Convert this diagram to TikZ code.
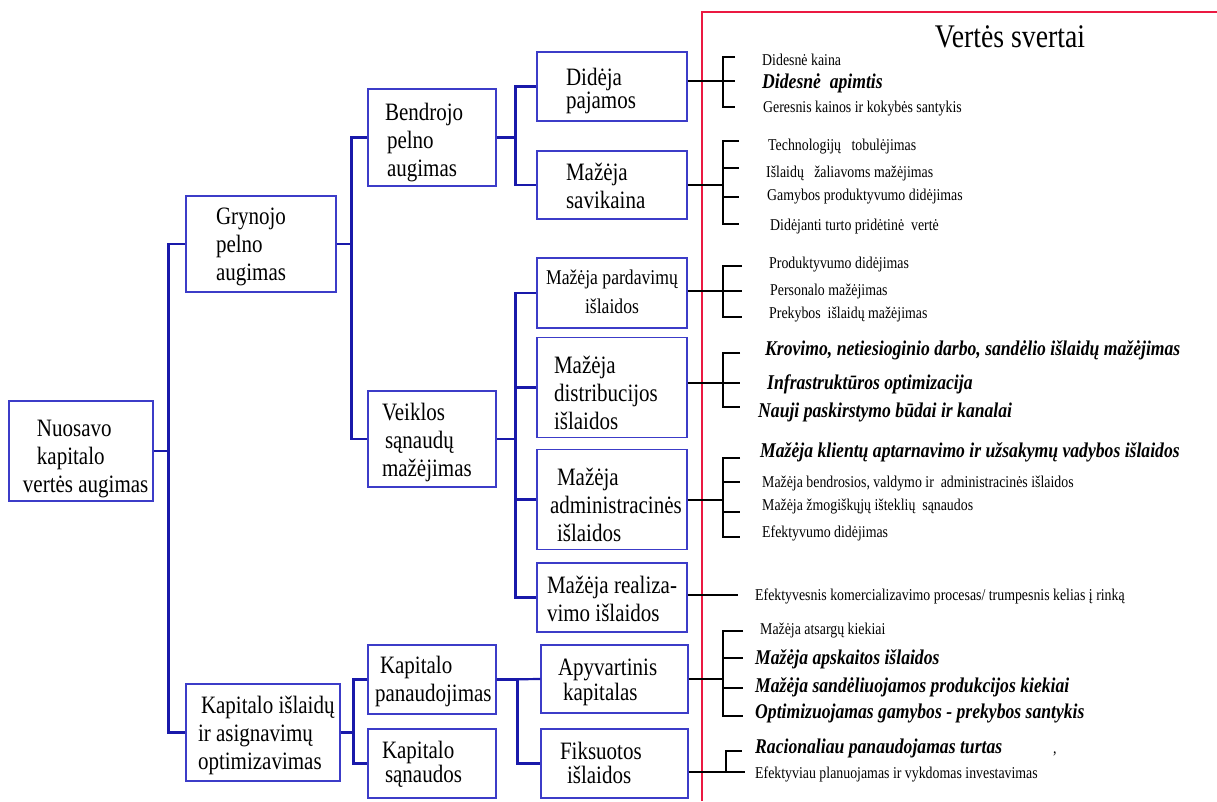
\documentclass[tikz,border=0pt]{standalone}
\usepackage{fontspec}
\setmainfont{Liberation Serif}[FakeStretch=0.84]
\usetikzlibrary{calc}
\definecolor{boxblue}{RGB}{60,60,200}
\definecolor{connblue}{RGB}{25,25,170}
\definecolor{redln}{RGB}{235,25,65}
\newcommand\bxt[3]{\makebox[#1][l]{\hspace*{#2}\begin{tabular}{@{}l@{}}#3\end{tabular}}}
\tikzset{
  box/.style={draw=boxblue, line width=1.1pt, inner sep=0pt, font=\fontsize{25}{28}\selectfont},
  conn/.style={draw=connblue, line width=2.2pt},
  blk/.style={draw=black, line width=2pt},
  redframe/.style={draw=redln, line width=2pt},
  lev/.style={anchor=base west, inner sep=0pt, font=\fontsize{16.5}{18}\selectfont},
  levb/.style={anchor=base west, inner sep=0pt, font=\fontsize{21}{24}\selectfont\bfseries\itshape},
}
\begin{document}
\begin{tikzpicture}[x=1pt,y=-1pt]
\useasboundingbox (0,0) rectangle (1217,801);

% red frame
\draw[redframe] (702,801) -- (702,12) -- (1217,12);
\node[anchor=base, inner sep=0pt, font=\fontsize{33}{36}\selectfont] (title) at (1010,47) {Vertės svertai};

% boxes
\node[box, minimum width=144pt, minimum height=96pt] (nuo) at (81,451)
  {\bxt{144pt}{14pt}{\rule{0pt}{35.6pt}\hspace*{14pt}Nuosavo\\\hspace*{14pt}kapitalo\\vertės augimas}};
\node[box, minimum width=150pt, minimum height=96pt] (gry) at (261,244)
  {\bxt{150pt}{30pt}{\rule{0pt}{25.6pt}Grynojo\\pelno\\augimas}};
\node[box, minimum width=154pt, minimum height=97pt] (kis) at (263,732.5)
  {\bxt{154pt}{12pt}{\rule{0pt}{25.6pt}\hspace*{3pt}Kapitalo išlaidų\\ir asignavimų\\optimizavimas}};
\node[box, minimum width=128pt, minimum height=97pt] (ben) at (432,137.5)
  {\bxt{128pt}{17pt}{\rule{0pt}{29.6pt}Bendrojo\\\hspace*{2pt}pelno\\\hspace*{2pt}augimas}};
\node[box, minimum width=128pt, minimum height=96pt] (vei) at (432,439)
  {\bxt{128pt}{14pt}{\rule{0pt}{26.4pt}Veiklos\\\hspace*{3pt}sąnaudų\\mažėjimas}};
\node[box, minimum width=128pt, minimum height=69pt] (kpa) at (432,679.5)
  {\bxt{128pt}{7pt}{\rule{0pt}{23.6pt}\hspace*{5pt}Kapitalo\\panaudojimas}};
\node[box, font=\fontsize{25}{24}\selectfont, minimum width=128pt, minimum height=69pt] (ksa) at (432,763.5)
  {\bxt{128pt}{14pt}{\rule{0pt}{20.8pt}Kapitalo\\\hspace*{3pt}sąnaudos}};
\node[box, font=\fontsize{25}{22}\selectfont, minimum width=150pt, minimum height=69pt] (did) at (612,86.5)
  {\bxt{150pt}{29pt}{\rule{0pt}{27pt}Didėja\\pajamos}};
\node[box, minimum width=150pt, minimum height=68pt] (msa) at (612,185)
  {\bxt{150pt}{29pt}{\rule{0pt}{26.4pt}Mažėja\\savikaina}};
\node[box, font=\fontsize{21}{29}\selectfont, minimum width=150pt, minimum height=70pt] (mpa) at (612,293)
  {\makebox[150pt][c]{\begin{tabular}{@{}c@{}}Mažėja pardavimų\\išlaidos\end{tabular}}};
\node[box, minimum width=150pt, minimum height=97pt] (mdi) at (612,387.5)
  {\bxt{150pt}{17pt}{\rule{0pt}{35.6pt}Mažėja\\distribucijos\\išlaidos}};
\node[box, minimum width=150pt, minimum height=97pt] (mad) at (612,499.5)
  {\bxt{150pt}{13pt}{\rule{0pt}{35.6pt}\hspace*{7pt}Mažėja\\administracinės\\\hspace*{7pt}išlaidos}};
\node[box, minimum width=150pt, minimum height=69pt] (mre) at (612,597.5)
  {\bxt{150pt}{10pt}{\rule{0pt}{27.6pt}Mažėja realiza-\\vimo išlaidos}};
\node[box, font=\fontsize{25}{24}\selectfont, minimum width=147pt, minimum height=68pt] (apy) at (614.5,679)
  {\bxt{147pt}{17pt}{\rule{0pt}{25.2pt}Apyvartinis\\\hspace*{5pt}kapitalas}};
\node[box, font=\fontsize{25}{24}\selectfont, minimum width=147pt, minimum height=69pt] (fik) at (614.5,763.5)
  {\bxt{147pt}{19pt}{\rule{0pt}{22.8pt}Fiksuotos\\\hspace*{7pt}išlaidos}};

% blue tree connectors
\draw[conn] (nuo.east) -- ++(16,0);
\draw[conn] (gry.west) -- ++(-17,0) |- (kis.west);
\draw[conn] (gry.east) -- ++(16,0);
\draw[conn] (ben.west) -- ++(-16,0) |- (vei.west);
\draw[conn] (ben.east) -- ++(20,0);
\draw[conn] (did.west) -- ++(-21,0) |- (msa.west);
\draw[conn] (vei.east) -- ++(20,0);
\draw[conn] (mpa.west) -- ++(-21,0) |- (mre.west);
\draw[conn] (mdi.west) -- ++(-21,0);
\draw[conn] (mad.west) -- ++(-21,0);
\draw[conn] (kis.east) -- ++(14,0);
\draw[conn] (kpa.west) -- ++(-14,0) |- (ksa.west);
\draw[conn] (kpa.east) -- (apy.west);
\draw[conn] (fik.west) -- ++(-23,0) |- (kpa.east);

% black brackets
\coordinate (g1) at (735,81);
\draw[blk] (did.east |- g1) -- (g1);
\draw[blk] (735,57) -| (723,107) -- (735,107);

\draw[blk] (msa.east) -- (723,185);
\draw[blk] (739,141) -| (723,224) -- (739,224);
\draw[blk] (723,168) -- (739,168);
\draw[blk] (723,197) -- (739,197);

\coordinate (g3) at (742,291);
\draw[blk] (mpa.east |- g3) -- (g3);
\draw[blk] (742,266) -| (723,317) -- (742,317);

\coordinate (g4) at (740,383);
\draw[blk] (mdi.east |- g4) -- (g4);
\draw[blk] (740,353) -| (723,407) -- (740,407);

\draw[blk] (mad.east) -- (723,499.5);
\draw[blk] (740,458) -| (723,537) -- (740,537);
\draw[blk] (723,482) -- (740,482);
\draw[blk] (723,512) -- (740,512);

\coordinate (g6) at (738,595);
\draw[blk] (mre.east |- g6) -- (g6);

\draw[blk] (apy.east) -- (723,679);
\draw[blk] (743,631) -| (723,716) -- (743,716);
\draw[blk] (723,658) -- (743,658);
\draw[blk] (723,688) -- (743,688);

\coordinate (g8) at (745,772);
\draw[blk] (fik.east |- g8) -- (g8);
\draw[blk] (726,772) |- (742,751);

% lever texts
\node[lev] (t11) at (762,65) {Didesnė kaina};
\node[levb] (t12) at (762,88) {Didesnė~~apimtis};
\node[lev] (t13) at (763,112) {Geresnis kainos ir kokybės santykis};

\node[lev] (t21) at (768,150) {Technologijų~~~tobulėjimas};
\node[lev] (t22) at (766,177) {Išlaidų~~~žaliavoms mažėjimas};
\node[lev] (t23) at (767,200) {Gamybos produktyvumo didėjimas};
\node[lev] (t24) at (770,230) {Didėjanti turto pridėtinė~~vertė};

\node[lev] (t31) at (769,268) {Produktyvumo didėjimas};
\node[lev] (t32) at (770,295) {Personalo mažėjimas};
\node[lev] (t33) at (769,318) {Prekybos~~išlaidų mažėjimas};

\node[levb] (t41) at (765,355) {Krovimo, netiesioginio darbo, sandėlio išlaidų mažėjimas};
\node[levb] (t42) at (767,389) {Infrastruktūros optimizacija};
\node[levb] (t43) at (758,417) {Nauji paskirstymo būdai ir kanalai};

\node[levb] (t51) at (760,457) {Mažėja klientų aptarnavimo ir užsakymų vadybos išlaidos};
\node[lev] (t52) at (762,487) {Mažėja bendrosios, valdymo ir~~administracinės išlaidos};
\node[lev] (t53) at (762,510) {Mažėja žmogiškųjų išteklių~~sąnaudos};
\node[lev] (t54) at (762,537) {Efektyvumo didėjimas};

\node[lev] (t61) at (755,600) {Efektyvesnis komercializavimo procesas/ trumpesnis kelias į rinką};

\node[lev] (t71) at (760,634) {Mažėja atsargų kiekiai};
\node[levb] (t72) at (755,664) {Mažėja apskaitos išlaidos};
\node[levb] (t73) at (755,692) {Mažėja sandėliuojamos produkcijos kiekiai};
\node[levb] (t74) at (755,718) {Optimizuojamas gamybos - prekybos santykis};

\node[levb] (t81) at (755,753) {Racionaliau panaudojamas turtas};
\node[lev] (t8c) at (1053,753) {,};
\node[lev] (t82) at (755,778) {Efektyviau planuojamas ir vykdomas investavimas};
\end{tikzpicture}
\end{document}
